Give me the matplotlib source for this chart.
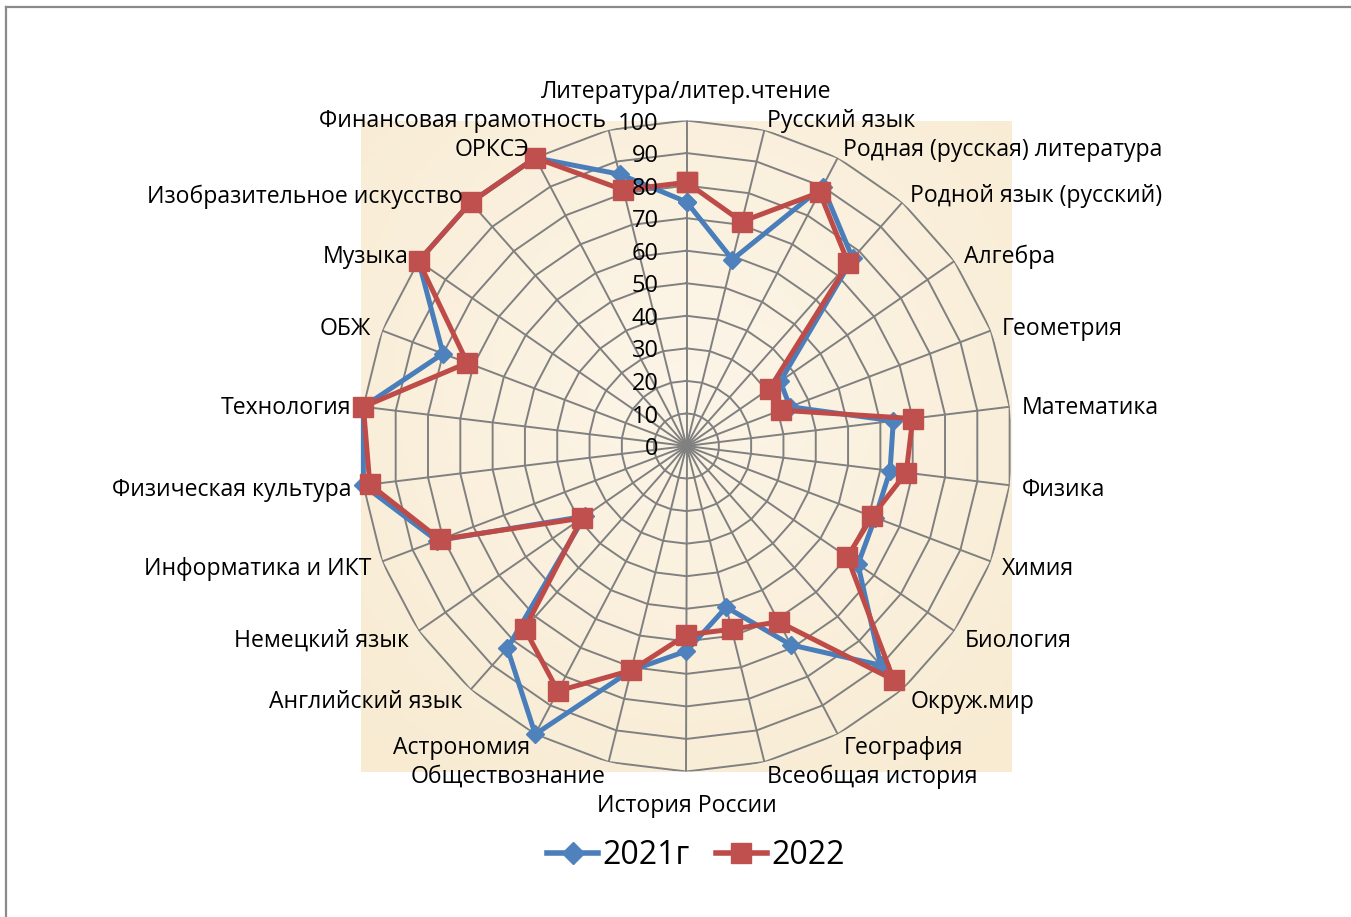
import numpy as np
import matplotlib
matplotlib.use("Agg")
import matplotlib.pyplot as plt
from matplotlib.lines import Line2D
from matplotlib.transforms import ScaledTranslation

plt.rcParams['font.family'] = ['Open Sans', 'DejaVu Sans']

categories = [
    "Литература/литер.чтение", "Русский язык", "Родная (русская) литература",
    "Родной язык (русский)", "Алгебра", "Геометрия", "Математика", "Физика",
    "Химия", "Биология", "Окруж.мир", "География", "Всеобщая история",
    "История России", "Обществознание", "Астрономия", "Английский язык",
    "Немецкий язык", "Информатика и ИКТ", "Физическая культура", "Технология",
    "ОБЖ", "Музыка", "Изобразительное искусство", "ОРКСЭ",
    "Финансовая грамотность",
]
values_2021 = [75, 59, 90, 77, 35, 34, 64, 63, 62, 64, 90, 69, 51, 63, 71,
               100, 83, 38, 82, 100, 100, 80, 100, 100, 100, 86]
values_2022 = [81, 71, 88, 75, 31, 31, 70, 68, 61, 60, 96, 61, 58, 58, 71,
               85, 75, 39, 81, 98, 100, 72, 100, 100, 100, 81]
series_names = ["2021г", "2022"]
radial_ticks = [0, 10, 20, 30, 40, 50, 60, 70, 80, 90, 100]

W, H = 1351, 917
cx, cy, R = 686.5, 446.0, 325.5
fig = plt.figure(figsize=(W / 100, H / 100), dpi=100)
fig.patch.set_facecolor('white')

rect = [(cx - R) / W, 1 - (cy + R) / H, 2 * R / W, 2 * R / H]

# parchment-like background of the plot area
bg = fig.add_axes(rect, zorder=0)
yy, xx = np.mgrid[-1:1:200j, -1:1:200j]
d = np.clip(np.sqrt(xx ** 2 + (yy + 0.2) ** 2) / 1.5, 0, 1)
c_in = np.array([0xFC, 0xF5, 0xE8]) / 255
c_out = np.array([0xF8, 0xEB, 0xD2]) / 255
img = c_in[None, None, :] * (1 - d[..., None]) + c_out[None, None, :] * d[..., None]
bg.imshow(img, extent=[0, 1, 0, 1], aspect='auto')
bg.axis('off')

ax = fig.add_axes(rect, projection='polar', zorder=1)
ax.set_facecolor('none')
ax.set_theta_zero_location('N')
ax.set_theta_direction(-1)
ax.set_ylim(0, 100)
ax.grid(False)
ax.spines['polar'].set_visible(False)
ax.set_xticks([])
ax.set_yticks([])

N = len(categories)
theta = np.arange(N) * 2 * np.pi / N
theta_c = np.append(theta, theta[0])

grid_col = '#808080'
for v in radial_ticks[1:]:
    ax.plot(theta_c, [v] * (N + 1), color=grid_col, lw=1.4, zorder=1)
for t in theta:
    ax.plot([t, t], [0, 100], color=grid_col, lw=1.4, zorder=1)

blue_line, blue_mark = '#4A7EBB', '#4F81BD'
red_line, red_mark = '#BE4B48', '#C0504D'
v21 = np.append(values_2021, values_2021[0])
v22 = np.append(values_2022, values_2022[0])
ax.plot(theta_c, v21, color=blue_line, lw=3.6, marker='D', markersize=9.5,
        markerfacecolor=blue_mark, markeredgecolor=blue_mark, zorder=3,
        clip_on=False)
ax.plot(theta_c, v22, color=red_line, lw=3.6, marker='s', markersize=14,
        markerfacecolor=red_mark, markeredgecolor=red_mark, zorder=4,
        clip_on=False)

down = ScaledTranslation(0, -3 / 100, fig.dpi_scale_trans)

for v in radial_ticks:
    ax.annotate(str(v), xy=(0, v), xytext=(-20, -2.2), textcoords='offset points',
                ha='right', va='center', fontsize=17, color='black',
                annotation_clip=False, zorder=5)

for t, lab in zip(theta, categories):
    s = np.sin(t)
    if abs(s) < 0.01:
        ha = 'center'
        r = 109.7
    else:
        ha = 'left' if s > 0 else 'right'
        r = 103.7
    ax.text(t, r, lab, ha=ha, va='center', fontsize=16.6, color='black',
            clip_on=False, zorder=5, transform=ax.transData + down)

handles = [
    Line2D([], [], color=blue_line, lw=4, marker='D', markersize=11,
           markerfacecolor=blue_mark, markeredgecolor=blue_mark),
    Line2D([], [], color=red_line, lw=4, marker='s', markersize=14,
           markerfacecolor=red_mark, markeredgecolor=red_mark),
]
fig.legend(handles, series_names, loc='center',
           bbox_to_anchor=(696 / W, 1 - 856 / H), ncol=2, frameon=False,
           fontsize=23, handlelength=1.6, handletextpad=0.15,
           columnspacing=0.8)

# outer chart border (top and left visible)
fig.add_artist(Line2D([6 / W, 6 / W], [0, 1 - 6.5 / H], transform=fig.transFigure,
                      color='#8a8a8a', lw=1.6))
fig.add_artist(Line2D([6 / W, 1], [1 - 6.5 / H, 1 - 6.5 / H], transform=fig.transFigure,
                      color='#8a8a8a', lw=1.6))

fig.savefig('out.png', dpi=100)
